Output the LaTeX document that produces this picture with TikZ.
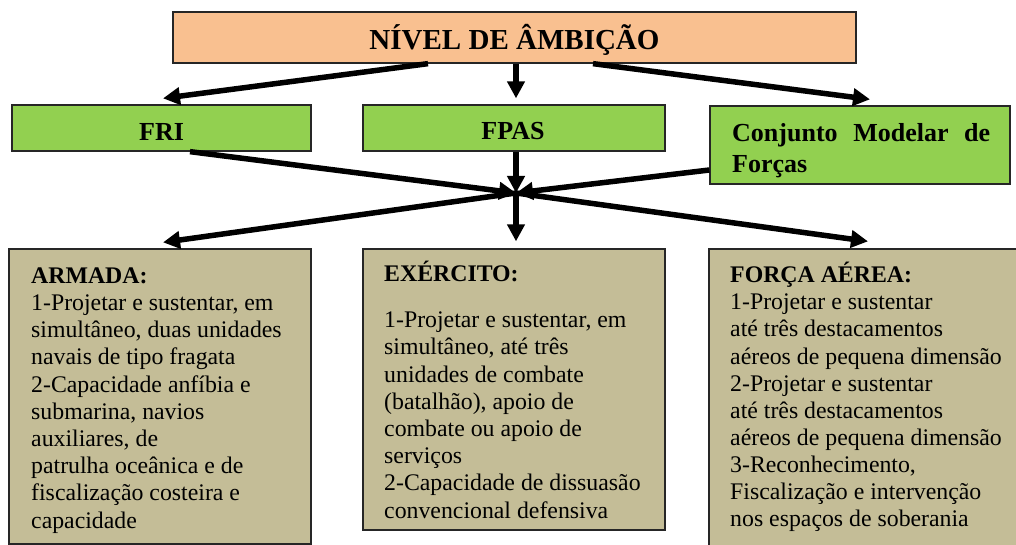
\documentclass[tikz,border=0pt]{standalone}
\usepackage{fontspec}
\setmainfont{Liberation Serif}
\usetikzlibrary{arrows.meta}
\definecolor{topfill}{HTML}{F9C090}
\definecolor{greenfill}{HTML}{92D050}
\definecolor{tanfill}{HTML}{C4BD97}
\tikzset{
  box/.style={draw=black!85, line width=1.3pt, rectangle, inner sep=0pt},
  conn/.style={line width=5.5pt, -{Triangle[length=17pt,width=17pt]}},
  txt/.style={inner sep=0pt, anchor=base west},
}
\begin{document}
\begin{tikzpicture}[x=1pt,y={(0pt,-1pt)}]
\useasboundingbox (0,0) rectangle (1016,545);
% hub
\coordinate (hub) at (516,193);
% boxes (positions)
\path
  (514.5,37.5) node[box, fill=topfill, minimum width=683pt, minimum height=51pt] (top) {}
  (161.5,128) node[box, fill=greenfill, minimum width=299pt, minimum height=46pt] (fri) {}
  (514,128) node[box, fill=greenfill, minimum width=302pt, minimum height=46pt] (fpas) {}
  (860,145) node[box, fill=greenfill, minimum width=300pt, minimum height=78pt] (cmf) {}
  (160,396.5) node[box, fill=tanfill, minimum width=302pt, minimum height=295pt] (arm) {}
  (514,389.5) node[box, fill=tanfill, minimum width=302pt, minimum height=281pt] (exe) {}
  (869.5,404.5) node[box, fill=tanfill, minimum width=321pt, minimum height=311pt] (fa) {};
% connectors
\draw[conn] ([xshift=-86.5pt]top.south) -- ([xshift=1.5pt,yshift=6pt]fri.north);
\draw[conn] ([xshift=1.5pt]top.south) -- ([xshift=2pt,yshift=6pt]fpas.north);
\draw[conn] ([xshift=78.5pt]top.south) -- ([xshift=10pt,yshift=6pt]cmf.north);
\draw[conn] ([xshift=28.5pt]fri.south) -- (hub);
\draw[conn] ([xshift=2pt]fpas.south) -- (hub);
\draw[conn] ([yshift=-25pt]cmf.west) -- (hub);
\draw[conn] (hub) -- ([xshift=3pt,yshift=6pt]arm.north);
\draw[conn] (hub) -- ([xshift=2pt,yshift=7pt]exe.north);
\draw[conn] (hub) -- ([xshift=-1.5pt,yshift=7pt]fa.north);
% texts
\node[inner sep=0pt, anchor=base, font=\fontsize{29}{34}\selectfont\bfseries] (ttop) at (514.5,50) {NÍVEL DE ÂMBIÇÃO};
\node[inner sep=0pt, anchor=base, font=\fontsize{26}{31}\selectfont\bfseries] (tfri) at (161.5,141) {FRI};
\node[inner sep=0pt, anchor=base, font=\fontsize{26}{31}\selectfont\bfseries] (tfpas) at (513,140) {FPAS};
\node[txt] (tcmf) at (732,141.7) {\parbox[t]{258pt}{\fontsize{26}{31.3}\selectfont\bfseries
  \makebox[258pt][s]{Conjunto Modelar de}\\Forças}};
\node[txt] (tarm) at (31,283.3) {\parbox[t]{280pt}{\fontsize{23.8}{27.2}\selectfont\raggedright
  \textbf{ARMADA:}\\
  1-Projetar e sustentar, em\\
  simultâneo, duas unidades\\
  navais de tipo fragata\\
  2-Capacidade anfíbia e\\
  submarina, navios\\
  auxiliares, de\\
  patrulha oceânica e de\\
  fiscalização costeira e\\
  capacidade}};
\node[txt] (texe) at (384,281.7) {\parbox[t]{280pt}{\fontsize{23.8}{27.2}\selectfont\raggedright
  \textbf{EXÉRCITO:}\\[18.8pt]
  1-Projetar e sustentar, em\\
  simultâneo, até três\\
  unidades de combate\\
  (batalhão), apoio de\\
  combate ou apoio de\\
  serviços\\
  2-Capacidade de dissuasão\\
  convencional defensiva}};
\node[txt] (tfa) at (730,282.7) {\parbox[t]{300pt}{\fontsize{23.8}{27.1}\selectfont\raggedright
  \textbf{FORÇA AÉREA:}\\
  1-Projetar e sustentar\\
  até três destacamentos\\
  aéreos de pequena dimensão\\
  2-Projetar e sustentar\\
  até três destacamentos\\
  aéreos de pequena dimensão\\
  3-Reconhecimento,\\
  Fiscalização e intervenção\\
  nos espaços de soberania}};
\end{tikzpicture}
\end{document}
